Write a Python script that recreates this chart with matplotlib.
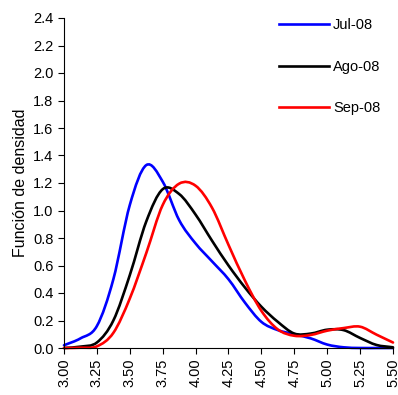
import numpy as np
import matplotlib
matplotlib.use("Agg")
import matplotlib.pyplot as plt
from matplotlib.path import Path
from matplotlib.patches import PathPatch
from matplotlib.lines import Line2D

# Datos (paso de 0.125)
x_val = [3.000, 3.125, 3.250, 3.375, 3.500, 3.625, 3.750, 3.875, 4.000, 4.125, 4.250,
         4.375, 4.500, 4.625, 4.750, 4.875, 5.000, 5.125, 5.250, 5.375, 5.500]
jul = [0.02, 0.07, 0.16, 0.50, 1.04, 1.33, 1.21, 0.93, 0.76, 0.63, 0.50,
       0.33, 0.19, 0.13, 0.10, 0.07, 0.025, 0.005, 0.0, 0.0, 0.0]
ago = [0.0, 0.01, 0.04, 0.20, 0.53, 0.92, 1.155, 1.12, 0.97, 0.78, 0.60,
       0.44, 0.30, 0.19, 0.105, 0.105, 0.133, 0.13, 0.073, 0.022, 0.005]
sep = [0.0, 0.002, 0.012, 0.11, 0.36, 0.69, 1.04, 1.195, 1.18, 1.02, 0.75,
       0.49, 0.27, 0.135, 0.089, 0.095, 0.126, 0.145, 0.155, 0.097, 0.04]

series = [("Jul-08", jul, "#0000ff"),
          ("Ago-08", ago, "black"),
          ("Sep-08", sep, "#ff0000")]


def linea_suave(xs, ys):
    # linea suavizada (Hermite cubica en forma de Bezier)
    x = np.asarray(xs, float)
    y = np.asarray(ys, float)
    n = len(x)
    m = np.zeros(n)
    m[0] = (y[1] - y[0]) / (x[1] - x[0])
    m[-1] = (y[-1] - y[-2]) / (x[-1] - x[-2])
    m[1:-1] = (y[2:] - y[:-2]) / (x[2:] - x[:-2])
    verts = [(x[0], y[0])]
    codes = [Path.MOVETO]
    for i in range(n - 1):
        h = x[i + 1] - x[i]
        verts += [(x[i] + h / 3, y[i] + m[i] * h / 3),
                  (x[i + 1] - h / 3, y[i + 1] - m[i + 1] * h / 3),
                  (x[i + 1], y[i + 1])]
        codes += [Path.CURVE4] * 3
    return Path(verts, codes)


plt.rcParams['font.family'] = ['Liberation Sans', 'DejaVu Sans']

fig = plt.figure(figsize=(3.98, 3.95), dpi=100)
ax = fig.add_axes([64 / 398, 47 / 395, 329 / 398, 330 / 395])

handles = []
for nombre, ys, color in series:
    ax.add_patch(PathPatch(linea_suave(x_val, ys), facecolor="none", edgecolor=color,
                           lw=1.9, capstyle="round", joinstyle="round", clip_on=False))
    handles.append(Line2D([], [], color=color, lw=1.9, label=nombre))

ax.set_xlim(3.0, 5.5)
ax.set_ylim(0, 2.4)
ax.set_xticks(np.arange(3.0, 5.51, 0.25))
ax.set_xticklabels(["%.2f" % v for v in np.arange(3.0, 5.51, 0.25)], rotation=90)
ax.set_yticks(np.arange(0, 2.41, 0.2))
ax.set_yticklabels(["%.1f" % v for v in np.arange(0, 2.41, 0.2)])
ax.tick_params(direction="out", length=4, width=0.8, labelsize=10.5, colors="black")
ax.spines["top"].set_visible(False)
ax.spines["right"].set_visible(False)
ax.set_ylabel("Función de densidad", fontsize=11.5, labelpad=4)

ax.legend(handles=handles, loc="upper left", bbox_to_anchor=(279 / 398, 1 - 18 / 395),
          bbox_transform=fig.transFigure, frameon=False, fontsize=10.5,
          handlelength=3.4, handletextpad=0.3, labelspacing=1.9,
          borderpad=0, borderaxespad=0)

fig.savefig("out.png", dpi=100)
